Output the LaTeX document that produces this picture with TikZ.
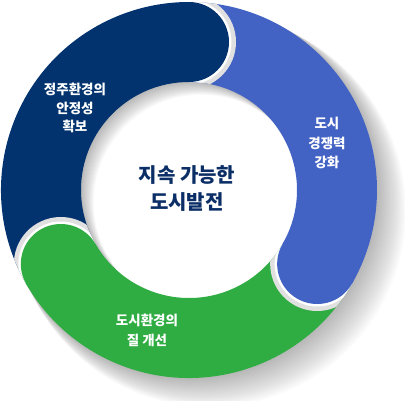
\documentclass[tikz,border=0pt]{standalone}
\usepackage{fontspec}
\setmainfont{Noto Sans CJK KR}
\definecolor{navyc}{HTML}{03336F}
\definecolor{bluec}{HTML}{4263C4}
\definecolor{greenc}{HTML}{2FAC42}
\definecolor{textc}{HTML}{0B2E66}
\begin{document}
\begin{tikzpicture}[x=1pt,y=1pt,
  lbl/.style={text=white, align=center, inner sep=0pt, font=\fontsize{13.5}{19}\selectfont\bfseries},
  ctr/.style={text=textc, align=center, inner sep=0pt, font=\fontsize{20}{27}\selectfont\bfseries}]
\useasboundingbox (-189,-210) rectangle (216,190);
% soft drop shadow
\foreach \k in {1,...,16}{
  \fill[black,opacity=0.02,even odd rule] (\k*1.3,-\k*1.3) circle[radius=188+0.5*\k] (\k*0.8,-\k*0.8) circle[radius=108];
}
% segment bodies
\fill[navyc] (210:188) arc[start angle=210,end angle=90,radius=188] -- (90:108) arc[start angle=90,end angle=210,radius=108] -- cycle;
\fill[bluec] (90:188) arc[start angle=90,end angle=-30,radius=188] -- (-30:108) arc[start angle=-30,end angle=90,radius=108] -- cycle;
\fill[greenc] (-30:188) arc[start angle=-30,end angle=-150,radius=188] -- (-150:108) arc[start angle=-150,end angle=-30,radius=108] -- cycle;
% rounded heads with gaps
\foreach \a/\c in {90/navyc,-30/bluec,210/greenc}{
  \begin{scope}[rotate=\a]
    \begin{scope}
      \clip (0:188) arc[start angle=0,end angle=-30,radius=188] -- (-30:108) arc[start angle=-30,end angle=0,radius=108] -- cycle;
      \fill[gray!24] (148,0) circle[radius=47];
      \fill[white] (148,0) circle[radius=42.5];
    \end{scope}
    \fill[\c] (148,0) circle[radius=40];
  \end{scope}
}
% labels
\node[lbl, font=\fontsize{13.5}{18.5}\selectfont\bfseries] (n1) at (-114,82) {정주환경의\\안정성\\확보};
\node[lbl, font=\fontsize{13.5}{19.5}\selectfont\bfseries] (n2) at (138,47) {도시\\경쟁력\\강화};
\node[lbl, font=\fontsize{13.5}{20}\selectfont\bfseries] (n3) at (-42,-140) {도시환경의\\질 개선};
\node[ctr] (c) at (-2,1) {지속 가능한\\도시발전};
\end{tikzpicture}
\end{document}
